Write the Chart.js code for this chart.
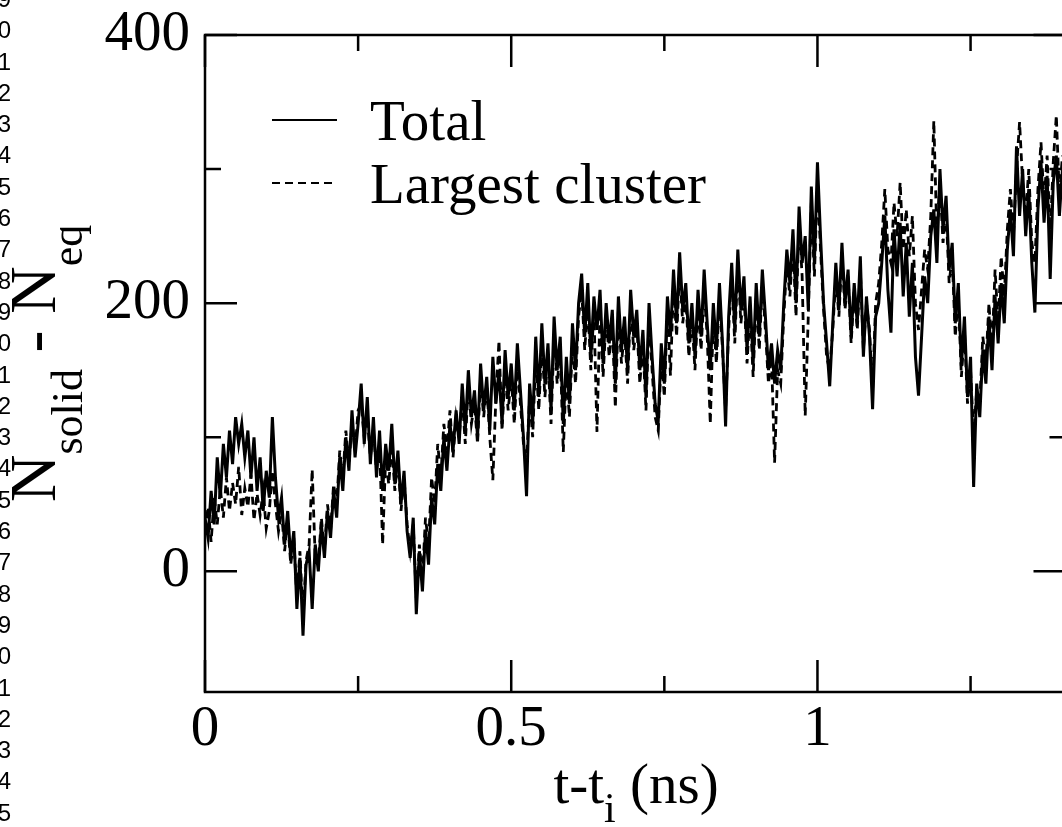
<!DOCTYPE html>
<html>
<head>
<meta charset="utf-8">
<script src="https://cdn.jsdelivr.net/npm/chart.js@4.4.1/dist/chart.umd.min.js"></script>
<style>
html, body { margin: 0; padding: 0; background: #fff; overflow: hidden; }
#wrap { position: absolute; left: 0; top: 0; width: 1070px; height: 827px; }
#lineno { position: absolute; left: -30px; top: -17px; width: 41px; text-align: right;
  font-family: "Liberation Sans", Arial, sans-serif; font-size: 24px; line-height: 31.3px; color: #000; }
</style>
</head>
<body>
<div id="wrap"><canvas id="mycanvas"></canvas></div>
<div id="lineno">9<br>0<br>1<br>2<br>3<br>4<br>5<br>6<br>7<br>8<br>9<br>0<br>1<br>2<br>3<br>4<br>5<br>6<br>7<br>8<br>9<br>0<br>1<br>2<br>3<br>4<br>5</div>
<script>
var ctx = document.getElementById('mycanvas').getContext('2d');

// sampling step of the run (ns)
var dt = 0.005;

// N_solid - N_eq, total
var totalN = [
    40, 25, 60, 35, 85, 55, 95, 70, 105, 80, 115, 95, 110, 85, 105, 70, 100, 60, 85, 45, 75,
    55, 115, 70, 40, 55, 20, 45, 10, 30, -28, 10, -48, 5, 15, -28, 20, 0, 35, 10, 45,
    25, 60, 40, 85, 60, 100, 75, 120, 85, 110, 140, 95, 130, 80, 115, 70, 105, 60, 95, 75,
    110, 65, 90, 50, 75, 30, 10, 40, -32, 15, -15, 30, 5, 55, 35, 80, 60, 100, 75, 110,
    90, 120, 95, 140, 105, 150, 115, 135, 100, 155, 120, 145, 105, 160, 125, 150, 110, 165, 130, 155,
    120, 170, 135, 100, 56, 140, 110, 175, 130, 185, 140, 170, 120, 190, 150, 175, 110, 160, 125, 185,
    150, 200, 222, 175, 215, 160, 205, 180, 210, 155, 200, 170, 195, 140, 205, 165, 190, 150, 210, 175,
    195, 150, 180, 130, 200, 160, 125, 112, 170, 140, 205, 175, 225, 185, 238, 195, 215, 170, 200, 160,
    210, 175, 225, 185, 150, 200, 165, 215, 170, 108, 190, 230, 180, 240, 195, 220, 165, 205, 155, 215,
    175, 225, 190, 150, 170, 140, 165, 150, 200, 240, 215, 255, 200, 272, 230, 250, 195, 287, 230, 305,
    250, 200, 170, 138, 185, 230, 195, 245, 200, 225, 175, 215, 185, 235, 160, 205, 175, 121, 190, 200,
    230, 265, 210, 178, 255, 220, 260, 205, 245, 190, 230, 160, 131, 175, 220, 200, 250, 270, 230, 300,
    255, 280, 225, 245, 185, 215, 153, 190, 130, 160, 63, 140, 115, 165, 140, 190, 150, 205, 170, 215,
    185, 240, 270, 235, 317, 265, 300, 250, 285, 230, 193, 270, 305, 260, 295, 218, 290, 310, 265, 300
];

// largest cluster
var largestN = [
    30, 48, 22, 55, 35, 62, 40, 70, 45, 66, 50, 78, 42, 62, 48, 72, 38, 58, 42, 60, 32,
    45, 75, 50, 30, 45, 15, 38, 5, 25, -20, 15, -35, 8, 20, 76, 10, 5, 40, 15, 50,
    30, 65, 50, 90, 70, 105, 80, 110, 90, 120, 125, 100, 115, 85, 105, 75, 95, 20, 85, 65,
    95, 60, 85, 45, 70, 35, 15, 35, -20, 20, -5, 40, 20, 70, 50, 95, 70, 110, 90, 120,
    85, 115, 100, 130, 95, 140, 110, 125, 95, 145, 115, 140, 100, 68, 130, 172, 105, 150, 120, 145,
    110, 155, 125, 95, 80, 130, 100, 160, 120, 170, 130, 160, 110, 175, 140, 165, 89, 150, 115, 170,
    140, 190, 210, 165, 200, 150, 195, 104, 195, 145, 190, 160, 185, 122, 195, 155, 180, 140, 200, 165,
    185, 140, 170, 120, 190, 150, 115, 105, 160, 130, 195, 146, 215, 175, 225, 185, 205, 160, 190, 150,
    200, 165, 210, 175, 110, 190, 155, 205, 165, 120, 180, 220, 170, 230, 185, 210, 155, 195, 145, 205,
    165, 215, 180, 140, 160, 81, 150, 140, 190, 230, 205, 245, 190, 260, 220, 116, 190, 275, 220, 290,
    240, 195, 160, 150, 180, 220, 190, 235, 195, 220, 170, 210, 180, 225, 165, 200, 180, 135, 200, 215,
    245, 285, 240, 230, 275, 250, 290, 240, 270, 235, 265, 200, 180, 210, 240, 225, 265, 336, 250, 290,
    245, 270, 215, 235, 175, 205, 145, 180, 125, 150, 100, 135, 125, 175, 155, 200, 165, 225, 185, 235,
    205, 255, 285, 250, 300, 335, 290, 265, 300, 245, 230, 285, 320, 275, 310, 250, 305, 340, 280, 310
];

var xTicks = [0, 0.25, 0.5, 0.75, 1, 1.25];
var xTickLabels = ['0', '', '0.5', '', '1', ''];
var yTicks = [0, 100, 200, 300, 400];
var yTickLabels = ['0', '', '200', '', '400'];

var times = totalN.map(function (v, i) { return +(i * dt).toFixed(3); });

function toPoints(arr) {
    return arr.map(function (v, i) { return {x: times[i], y: v}; });
}

var serif = '"Liberation Serif", "Times New Roman", serif';

// draws pieces of text (with sub-scripts) centred on 0,0
function drawParts(c, parts) {
    var total = 0;
    parts.forEach(function (p) {
        c.font = p.size + 'px ' + serif;
        p.w = c.measureText(p.t).width;
        total += p.w;
    });
    var x = -total / 2;
    parts.forEach(function (p) {
        c.font = p.size + 'px ' + serif;
        c.fillText(p.t, x, p.dy);
        x += p.w;
    });
}

var framePlugin = {
    id: 'frame',
    afterDraw: function (chart) {
        var c = chart.ctx, a = chart.chartArea;
        var xs = chart.scales.x, ys = chart.scales.y;
        c.save();
        c.strokeStyle = '#000';
        c.fillStyle = '#000';
        c.lineWidth = 2.5;
        c.strokeRect(a.left, a.top, a.right - a.left, a.bottom - a.top);
        c.beginPath();
        xTicks.forEach(function (v, i) {
            var px = xs.getPixelForValue(v);
            var len = xTickLabels[i] ? 32 : 16;
            c.moveTo(px, a.bottom); c.lineTo(px, a.bottom - len);
            c.moveTo(px, a.top); c.lineTo(px, a.top + len);
        });
        yTicks.forEach(function (v, i) {
            var py = ys.getPixelForValue(v);
            var len = yTickLabels[i] ? 32 : 16;
            c.moveTo(a.left, py); c.lineTo(a.left + len, py);
            c.moveTo(a.right, py); c.lineTo(a.right - len, py);
        });
        c.stroke();

        // legend
        c.textBaseline = 'alphabetic';
        c.textAlign = 'left';
        chart.data.datasets.forEach(function (ds, i) {
            var ly = a.top + 85 + i * 63;
            c.lineWidth = 2.2;
            c.setLineDash(ds.borderDash || []);
            c.beginPath();
            c.moveTo(a.left + 67, ly);
            c.lineTo(a.left + 132, ly);
            c.stroke();
            c.setLineDash([]);
            c.font = '57px ' + serif;
            c.fillText(ds.label, a.left + 165, ly + 20);
        });

        // x axis title
        c.save();
        c.translate(636, 803);
        drawParts(c, [
            {t: 't-t', size: 57, dy: 0},
            {t: 'i', size: 42, dy: 19},
            {t: ' (ns)', size: 57, dy: 0}
        ]);
        c.restore();

        // y axis title
        c.save();
        c.translate(55, (a.top + a.bottom) / 2);
        c.rotate(-Math.PI / 2);
        drawParts(c, [
            {t: 'N', size: 66, dy: 0},
            {t: 'solid', size: 44, dy: 27},
            {t: ' - ', size: 66, dy: 0},
            {t: 'N', size: 66, dy: 0},
            {t: 'eq', size: 44, dy: 27}
        ]);
        c.restore();
        c.restore();
    }
};

var myChart = new Chart(ctx, {
    type: 'line',
    data: {
        datasets: [{
                label: 'Total',
                data: toPoints(totalN),
                borderColor: '#000',
                borderWidth: 3,
                pointRadius: 0,
                fill: false,
                tension: 0
            }, {
                label: 'Largest cluster',
                data: toPoints(largestN),
                borderColor: '#000',
                borderWidth: 2.8,
                borderDash: [8, 5],
                pointRadius: 0,
                fill: false,
                tension: 0
            }]
    },
    options: {
        responsive: true,
        maintainAspectRatio: false,
        animation: false,
        layout: {padding: {left: 0, top: 35, right: 4.5, bottom: 0}},
        plugins: {
            legend: {display: false},
            tooltip: {enabled: false}
        },
        scales: {
            x: {
                type: 'linear',
                min: 0,
                max: 1.405,
                afterBuildTicks: function (s) {
                    s.ticks = xTicks.map(function (v) { return {value: v}; });
                },
                afterFit: function (s) {
                    s.height = 135;
                    s.paddingLeft = 0;
                    s.paddingRight = 0;
                },
                grid: {display: false, drawTicks: false},
                border: {display: false},
                ticks: {
                    padding: 4,
                    color: '#000',
                    maxRotation: 0,
                    autoSkip: false,
                    font: {family: serif, size: 57},
                    callback: function (v, i) { return xTickLabels[i]; }
                }
            },
            y: {
                min: -90,
                max: 400,
                afterBuildTicks: function (s) {
                    s.ticks = yTicks.map(function (v) { return {value: v}; });
                },
                afterFit: function (s) {
                    s.width = 205;
                    s.paddingTop = 0;
                    s.paddingBottom = 0;
                },
                grid: {display: false, drawTicks: false},
                border: {display: false},
                ticks: {
                    padding: 15,
                    color: '#000',
                    autoSkip: false,
                    font: {family: serif, size: 57},
                    callback: function (v, i) { return yTickLabels[i]; }
                }
            }
        }
    },
    plugins: [framePlugin]
});
</script>
</body>
</html>
